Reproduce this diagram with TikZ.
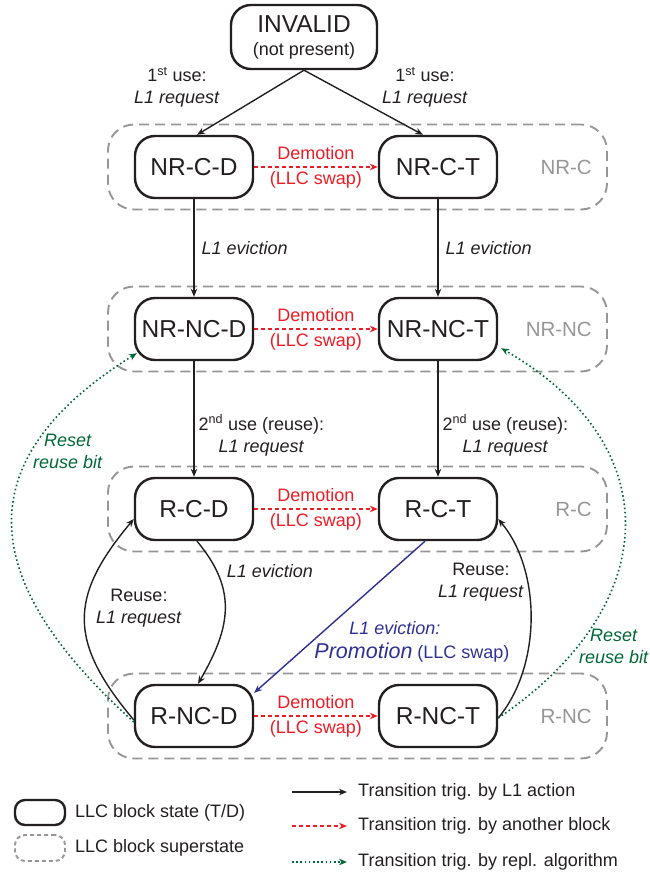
\documentclass[tikz,border=0pt]{standalone}
\usepackage{fontspec}
\setmainfont{Liberation Sans}
\usetikzlibrary{arrows.meta}

\definecolor{demred}{RGB}{237,28,36}
\definecolor{resetgreen}{RGB}{0,104,55}
\definecolor{promoblue}{RGB}{46,49,146}
\definecolor{supergray}{RGB}{150,150,150}
\definecolor{ink}{RGB}{35,31,32}

\begin{document}
\begin{tikzpicture}[x=1pt, y=1pt,
    state/.style={draw=ink, line width=2.4pt, rounded corners=20pt, fill=white, minimum width=118pt, minimum height=62pt, inner sep=2pt, text=ink, font=\fontsize{24.5}{25}\selectfont},
    super/.style={draw=supergray, line width=1.9pt, dash pattern=on 10pt off 6pt, rounded corners=26pt, minimum width=499pt, minimum height=85pt},
    superlabel/.style={text=supergray, anchor=east, inner sep=0pt, font=\fontsize{20.5}{24}\selectfont},
    lbl/.style={text=ink, align=center, inner sep=1pt, font=\fontsize{18}{22}\selectfont},
    l1/.style={-{Stealth[length=8pt,width=6.5pt]}, line width=1.4pt, draw=ink},
    demote/.style={-{Stealth[length=8pt,width=6.5pt]}, line width=1.4pt, draw=demred, dash pattern=on 4pt off 3pt},
    reset/.style={-{Stealth[length=8pt,width=6.5pt]}, line width=1.6pt, draw=resetgreen, dash pattern=on 1.6pt off 2.6pt},
    promo/.style={-{Stealth[length=8pt,width=6.5pt]}, line width=1.4pt, draw=promoblue}]

\useasboundingbox (0,0) rectangle (650,-876);

% Superstates and their D/T states (one row each)
\foreach \r/\y/\s in {nc/167/NR-C, nnc/329/NR-NC, rc/509/R-C, rnc/716/R-NC} {
    \node[super] (s-\r) at (357.5,-\y) {};
    \node[superlabel] (sl-\r) at (592,-\y) {\s};
    \node[state] (\r-d) at (194,-\y) {\s-D};
    \node[state] (\r-t) at (438,-\y) {\s-T};
}

% Demotion edges (another block)
\foreach \r in {nc,nnc,rc,rnc}
    \draw[demote] (\r-d) -- node[lbl, text=demred, font=\fontsize{18}{25}\selectfont] (dm-\r) {Demotion\\(LLC swap)} (\r-t);

% Invalid state
\node[state, minimum width=146pt, minimum height=64pt, align=center] (inv) at (304,-37) {INVALID\\[-2pt]{\fontsize{18}{22}\selectfont (not present)}};

% First use
\draw[l1] (inv.south) -- ([xshift=3pt]nc-d.north);
\draw[l1] (inv.south) -- ([xshift=-15pt]nc-t.north);
\node[lbl] (fu-d) at (177,-87) {1\textsuperscript{st} use:\\\textit{L1 request}};
\node[lbl] (fu-t) at (425,-87) {1\textsuperscript{st} use:\\\textit{L1 request}};

% L1 eviction and second use
\draw[l1] (nc-d) -- node[lbl, right=6pt] (ev-d) {\textit{L1 eviction}} (nnc-d);
\draw[l1] (nc-t) -- node[lbl, right=6pt] (ev-t) {\textit{L1 eviction}} (nnc-t);
\draw[l1] (nnc-d) -- node[lbl, pos=0.64, anchor=west, xshift=3pt] (su-d) {2\textsuperscript{nd} use (reuse):\\\textit{L1 request}} (rc-d);
\draw[l1] (nnc-t) -- node[lbl, pos=0.64, anchor=west, xshift=3pt] (su-t) {2\textsuperscript{nd} use (reuse):\\\textit{L1 request}} (rc-t);

% Reused blocks
\draw[l1] ([xshift=3pt]rc-d.south) to[out=-50, in=60, looseness=1.15] ([xshift=4pt]rnc-d.north);
\node[lbl] (ev-r) at (270,-571) {\textit{L1 eviction}};
\draw[l1] ([yshift=-4pt]rnc-d.west) to[out=130, in=-130, looseness=1.3] ([yshift=-10pt]rc-d.west);
\node[lbl] (ru-d) at (139,-608) {Reuse:\\\textit{L1 request}};
\draw[l1] ([yshift=-2pt]rnc-t.east) to[out=50, in=-50, looseness=0.87] ([yshift=-10pt]rc-t.east);
\node[lbl] (ru-t) at (481,-582) {Reuse:\\\textit{L1 request}};

% Promotion
\draw[promo] ([xshift=-13pt]rc-t.south) -- ([yshift=-9pt]rnc-d.north east);
\node[lbl, text=promoblue] (pr-a) at (395,-628) {\textit{L1 eviction:}};
\node[lbl, text=promoblue] (pr-b) at (412,-653) {{\fontsize{21.5}{24}\selectfont\itshape Promotion} (LLC swap)};

% Replacement algorithm
\draw[reset] ([yshift=-6pt]rnc-d.west) to[out=138, in=-148, looseness=1.43] ([shift={(3pt,8pt)}]nnc-d.south west);
\node[lbl, text=resetgreen] (rs-d) at (68,-451) {\textit{Reset}\\\textit{reuse bit}};
\draw[reset] ([yshift=-2pt]rnc-t.east) to[out=34, in=-30, looseness=1.36] ([shift={(3pt,13pt)}]nnc-t.south east);
\node[lbl, text=resetgreen] (rs-t) at (614,-646) {\textit{Reset}\\\textit{reuse bit}};

% Legend
\node[state, minimum width=50pt, minimum height=25pt, rounded corners=10pt] (key-state) at (40,-812.5) {};
\node[super, minimum width=50pt, minimum height=26pt, rounded corners=10pt, dash pattern=on 4pt off 3pt] (key-super) at (40,-848) {};
\node[lbl, anchor=west] (kt-state) at (74,-813) {LLC block state (T/D)};
\node[lbl, anchor=west] (kt-super) at (74,-848) {LLC block superstate};
\foreach \st/\y/\t in {l1/792/Transition trig. by L1 action, demote/826/Transition trig. by another block, reset/862/Transition trig. by repl. algorithm} {
    \coordinate (ka-\st) at (292,-\y);
    \coordinate (kb-\st) at (347,-\y);
    \draw[\st] (ka-\st) -- (kb-\st);
    \node[lbl, anchor=west] (kt-\st) at (357,-\y) {\t};
}

\end{tikzpicture}
\end{document}
